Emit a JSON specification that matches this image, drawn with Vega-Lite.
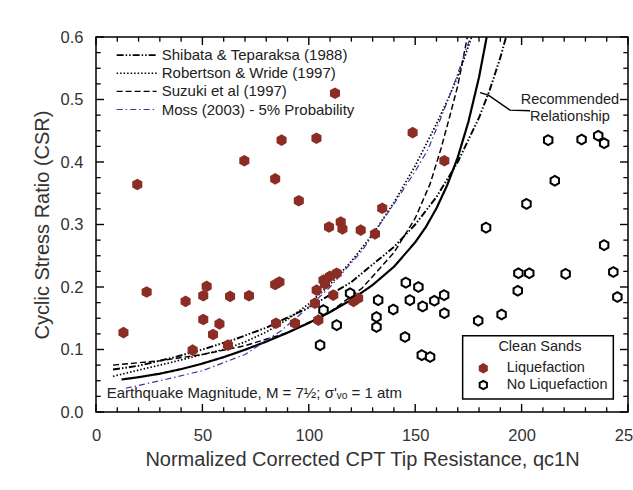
{
  "$schema": "https://vega.github.io/schema/vega-lite/v6.json",
  "width": 532,
  "height": 375,
  "autosize": {"type": "none"},
  "padding": {"left": 96, "top": 37, "right": 5, "bottom": 78},
  "background": "white",
  "config": {
    "view": {"stroke": "#000", "strokeWidth": 1.5},
    "font": "Liberation Sans",
    "axis": {
      "grid": false, "domain": false, "ticks": false, "tickSize": 0,
      "labelFont": "Liberation Sans", "labelFontSize": 16.5, "labelColor": "#333",
      "titleFont": "Liberation Sans", "titleFontSize": 20, "titleFontWeight": "normal", "titleColor": "#333"
    }
  },
  "datasets": {
    "curves": [
      {"s": "C", "g": "C", "x": 12, "y": 0.052}, {"s": "C", "g": "C", "x": 20, "y": 0.0557}, {"s": "C", "g": "C", "x": 30, "y": 0.0613},
      {"s": "C", "g": "C", "x": 40, "y": 0.0686}, {"s": "C", "g": "C", "x": 50, "y": 0.0775}, {"s": "C", "g": "C", "x": 60, "y": 0.0878},
      {"s": "C", "g": "C", "x": 70, "y": 0.0996}, {"s": "C", "g": "C", "x": 80, "y": 0.1126}, {"s": "C", "g": "C", "x": 90, "y": 0.1269},
      {"s": "C", "g": "C", "x": 100, "y": 0.1425}, {"s": "C", "g": "C", "x": 110, "y": 0.1598}, {"s": "C", "g": "C", "x": 120, "y": 0.1796},
      {"s": "C", "g": "C", "x": 130, "y": 0.2032}, {"s": "C", "g": "C", "x": 140, "y": 0.2324}, {"s": "C", "g": "C", "x": 150, "y": 0.2715},
      {"s": "C", "g": "C", "x": 155, "y": 0.2959}, {"s": "C", "g": "C", "x": 160, "y": 0.326}, {"s": "C", "g": "C", "x": 165, "y": 0.3626},
      {"s": "C", "g": "C", "x": 170, "y": 0.4074}, {"s": "C", "g": "C", "x": 175, "y": 0.4642}, {"s": "C", "g": "C", "x": 180, "y": 0.5357},
      {"s": "C", "g": "C", "x": 183.6, "y": 0.6},
      {"s": "S", "g": "S", "x": 8, "y": 0.068}, {"s": "S", "g": "S", "x": 20, "y": 0.074}, {"s": "S", "g": "S", "x": 35, "y": 0.086},
      {"s": "S", "g": "S", "x": 50, "y": 0.1}, {"s": "S", "g": "S", "x": 65, "y": 0.116}, {"s": "S", "g": "S", "x": 80, "y": 0.135},
      {"s": "S", "g": "S", "x": 100, "y": 0.167}, {"s": "S", "g": "S", "x": 120, "y": 0.208}, {"s": "S", "g": "S", "x": 140, "y": 0.264},
      {"s": "S", "g": "S", "x": 150, "y": 0.3}, {"s": "S", "g": "S", "x": 160, "y": 0.344}, {"s": "S", "g": "S", "x": 170, "y": 0.4},
      {"s": "S", "g": "S", "x": 180, "y": 0.471}, {"s": "S", "g": "S", "x": 185, "y": 0.515}, {"s": "S", "g": "S", "x": 190, "y": 0.567},
      {"s": "S", "g": "S", "x": 192.7, "y": 0.6},
      {"s": "R", "g": "R", "x": 8, "y": 0.057}, {"s": "R", "g": "R", "x": 20, "y": 0.067}, {"s": "R", "g": "R", "x": 35, "y": 0.079},
      {"s": "R", "g": "R", "x": 50, "y": 0.092}, {"s": "R", "g": "R", "x": 60, "y": 0.1}, {"s": "R", "g": "R", "x": 70, "y": 0.112},
      {"s": "R", "g": "R", "x": 80, "y": 0.128}, {"s": "R", "g": "R", "x": 90, "y": 0.148}, {"s": "R", "g": "R", "x": 100, "y": 0.173},
      {"s": "R", "g": "R", "x": 110, "y": 0.204}, {"s": "R", "g": "R", "x": 120, "y": 0.241}, {"s": "R", "g": "R", "x": 130, "y": 0.284},
      {"s": "R", "g": "R", "x": 140, "y": 0.335}, {"s": "R", "g": "R", "x": 150, "y": 0.394}, {"s": "R", "g": "R", "x": 160, "y": 0.461},
      {"s": "R", "g": "R", "x": 166, "y": 0.505}, {"s": "R", "g": "R", "x": 170, "y": 0.537}, {"s": "R", "g": "R", "x": 174, "y": 0.575},
      {"s": "R", "g": "R", "x": 176.5, "y": 0.6},
      {"s": "Z", "g": "Z", "x": 8, "y": 0.075}, {"s": "Z", "g": "Z", "x": 30, "y": 0.082}, {"s": "Z", "g": "Z", "x": 50, "y": 0.092},
      {"s": "Z", "g": "Z", "x": 70, "y": 0.106}, {"s": "Z", "g": "Z", "x": 90, "y": 0.127}, {"s": "Z", "g": "Z", "x": 110, "y": 0.16},
      {"s": "Z", "g": "Z", "x": 125, "y": 0.198}, {"s": "Z", "g": "Z", "x": 140, "y": 0.255}, {"s": "Z", "g": "Z", "x": 150, "y": 0.31},
      {"s": "Z", "g": "Z", "x": 157, "y": 0.365}, {"s": "Z", "g": "Z", "x": 162, "y": 0.42}, {"s": "Z", "g": "Z", "x": 166, "y": 0.47},
      {"s": "Z", "g": "Z", "x": 170, "y": 0.522}, {"s": "Z", "g": "Z", "x": 174.5, "y": 0.6},
      {"s": "M", "g": "M", "x": 14, "y": 0.038}, {"s": "M", "g": "M", "x": 30, "y": 0.05}, {"s": "M", "g": "M", "x": 50, "y": 0.066},
      {"s": "M", "g": "M", "x": 70, "y": 0.092}, {"s": "M", "g": "M", "x": 87, "y": 0.13}, {"s": "M", "g": "M", "x": 100, "y": 0.168},
      {"s": "M", "g": "M", "x": 110, "y": 0.2}, {"s": "M", "g": "M", "x": 125, "y": 0.258}, {"s": "M", "g": "M", "x": 140, "y": 0.333},
      {"s": "M", "g": "M", "x": 150, "y": 0.385}, {"s": "M", "g": "M", "x": 156, "y": 0.42}, {"s": "M", "g": "M", "x": 162, "y": 0.47},
      {"s": "M", "g": "M", "x": 168, "y": 0.522}, {"s": "M", "g": "M", "x": 176, "y": 0.6},
      {"s": "S", "g": "LS", "x": 9.7, "y": 0.571}, {"s": "S", "g": "LS", "x": 28.5, "y": 0.571},
      {"s": "R", "g": "LR", "x": 9.7, "y": 0.542}, {"s": "R", "g": "LR", "x": 28.5, "y": 0.542},
      {"s": "Z", "g": "LZ", "x": 9.7, "y": 0.513}, {"s": "Z", "g": "LZ", "x": 28.5, "y": 0.513},
      {"s": "M", "g": "LM", "x": 9.7, "y": 0.484}, {"s": "M", "g": "LM", "x": 28.5, "y": 0.484}
    ],
    "leader": [
      {"x": 180.5, "y": 0.511}, {"x": 184.4, "y": 0.507}, {"x": 194.5, "y": 0.483}, {"x": 204, "y": 0.482}
    ],
    "box": [{"x1": 172.3, "x2": 243.1, "y1": 0.0208, "y2": 0.122}],
    "xMajor": [{"v": 0}, {"v": 50}, {"v": 100}, {"v": 150}, {"v": 200}, {"v": 250}],
    "xMinor": [{"v": 10}, {"v": 20}, {"v": 30}, {"v": 40}, {"v": 60}, {"v": 70}, {"v": 80}, {"v": 90},
      {"v": 110}, {"v": 120}, {"v": 130}, {"v": 140}, {"v": 160}, {"v": 170}, {"v": 180}, {"v": 190},
      {"v": 210}, {"v": 220}, {"v": 230}, {"v": 240}],
    "yMajor": [{"v": 0}, {"v": 0.1}, {"v": 0.2}, {"v": 0.3}, {"v": 0.4}, {"v": 0.5}, {"v": 0.6}],
    "yMinor": [{"v": 0.025}, {"v": 0.05}, {"v": 0.075}, {"v": 0.125}, {"v": 0.15}, {"v": 0.175}, {"v": 0.225}, {"v": 0.25}, {"v": 0.275},
      {"v": 0.325}, {"v": 0.35}, {"v": 0.375}, {"v": 0.425}, {"v": 0.45}, {"v": 0.475}, {"v": 0.525}, {"v": 0.55}, {"v": 0.575}],
    "pts": [
      {"obs": "Liquefaction", "x": 12.9, "y": 0.127}, {"obs": "Liquefaction", "x": 19.4, "y": 0.364},
      {"obs": "Liquefaction", "x": 23.8, "y": 0.192}, {"obs": "Liquefaction", "x": 42.1, "y": 0.177},
      {"obs": "Liquefaction", "x": 45.4, "y": 0.099}, {"obs": "Liquefaction", "x": 50.4, "y": 0.186},
      {"obs": "Liquefaction", "x": 52, "y": 0.201}, {"obs": "Liquefaction", "x": 50.4, "y": 0.148},
      {"obs": "Liquefaction", "x": 58, "y": 0.141}, {"obs": "Liquefaction", "x": 55, "y": 0.124},
      {"obs": "Liquefaction", "x": 62, "y": 0.107}, {"obs": "Liquefaction", "x": 63, "y": 0.185},
      {"obs": "Liquefaction", "x": 69.7, "y": 0.402}, {"obs": "Liquefaction", "x": 71.9, "y": 0.186},
      {"obs": "Liquefaction", "x": 84.2, "y": 0.373}, {"obs": "Liquefaction", "x": 87.2, "y": 0.435},
      {"obs": "Liquefaction", "x": 84.2, "y": 0.204}, {"obs": "Liquefaction", "x": 86.2, "y": 0.208},
      {"obs": "Liquefaction", "x": 84.6, "y": 0.142}, {"obs": "Liquefaction", "x": 93.5, "y": 0.142},
      {"obs": "Liquefaction", "x": 95.3, "y": 0.338}, {"obs": "Liquefaction", "x": 103.6, "y": 0.438},
      {"obs": "Liquefaction", "x": 103.7, "y": 0.195}, {"obs": "Liquefaction", "x": 102.9, "y": 0.174},
      {"obs": "Liquefaction", "x": 104.5, "y": 0.147}, {"obs": "Liquefaction", "x": 106.9, "y": 0.211},
      {"obs": "Liquefaction", "x": 109.9, "y": 0.217}, {"obs": "Liquefaction", "x": 113.1, "y": 0.222},
      {"obs": "Liquefaction", "x": 111.5, "y": 0.187}, {"obs": "Liquefaction", "x": 107.6, "y": 0.205},
      {"obs": "Liquefaction", "x": 109.5, "y": 0.296}, {"obs": "Liquefaction", "x": 115, "y": 0.304},
      {"obs": "Liquefaction", "x": 115.8, "y": 0.293}, {"obs": "Liquefaction", "x": 112.3, "y": 0.51},
      {"obs": "Liquefaction", "x": 121, "y": 0.177}, {"obs": "Liquefaction", "x": 123.2, "y": 0.182},
      {"obs": "Liquefaction", "x": 124.4, "y": 0.291}, {"obs": "Liquefaction", "x": 131.1, "y": 0.285},
      {"obs": "Liquefaction", "x": 134.5, "y": 0.326}, {"obs": "Liquefaction", "x": 148.8, "y": 0.447},
      {"obs": "Liquefaction", "x": 163.7, "y": 0.402},
      {"obs": "No Liquefaction", "x": 105.3, "y": 0.107}, {"obs": "No Liquefaction", "x": 106.9, "y": 0.163},
      {"obs": "No Liquefaction", "x": 113.1, "y": 0.139}, {"obs": "No Liquefaction", "x": 119.4, "y": 0.19},
      {"obs": "No Liquefaction", "x": 131.8, "y": 0.136}, {"obs": "No Liquefaction", "x": 131.8, "y": 0.152},
      {"obs": "No Liquefaction", "x": 132.6, "y": 0.179}, {"obs": "No Liquefaction", "x": 139.7, "y": 0.164},
      {"obs": "No Liquefaction", "x": 145.2, "y": 0.12}, {"obs": "No Liquefaction", "x": 145.6, "y": 0.207},
      {"obs": "No Liquefaction", "x": 147.5, "y": 0.179}, {"obs": "No Liquefaction", "x": 151.5, "y": 0.2},
      {"obs": "No Liquefaction", "x": 153.1, "y": 0.091}, {"obs": "No Liquefaction", "x": 157, "y": 0.088},
      {"obs": "No Liquefaction", "x": 153.5, "y": 0.169}, {"obs": "No Liquefaction", "x": 159, "y": 0.178},
      {"obs": "No Liquefaction", "x": 163.6, "y": 0.187}, {"obs": "No Liquefaction", "x": 163.7, "y": 0.158},
      {"obs": "No Liquefaction", "x": 179.6, "y": 0.146}, {"obs": "No Liquefaction", "x": 183.3, "y": 0.295},
      {"obs": "No Liquefaction", "x": 190.6, "y": 0.156}, {"obs": "No Liquefaction", "x": 198.2, "y": 0.194},
      {"obs": "No Liquefaction", "x": 198.5, "y": 0.222}, {"obs": "No Liquefaction", "x": 203.6, "y": 0.222},
      {"obs": "No Liquefaction", "x": 202.3, "y": 0.333}, {"obs": "No Liquefaction", "x": 212.5, "y": 0.435},
      {"obs": "No Liquefaction", "x": 215.6, "y": 0.37}, {"obs": "No Liquefaction", "x": 220.7, "y": 0.221},
      {"obs": "No Liquefaction", "x": 228.2, "y": 0.436}, {"obs": "No Liquefaction", "x": 236, "y": 0.442},
      {"obs": "No Liquefaction", "x": 238.8, "y": 0.43}, {"obs": "No Liquefaction", "x": 238.8, "y": 0.267},
      {"obs": "No Liquefaction", "x": 243.1, "y": 0.224}, {"obs": "No Liquefaction", "x": 245, "y": 0.184}
    ],
    "legendKeys": [
      {"obs": "Liquefaction", "x": 182, "y": 0.0699},
      {"obs": "No Liquefaction", "x": 182, "y": 0.0432}
    ],
    "legendText": [
      {"t": "Shibata & Teparaksa (1988)", "x": 30.9, "y": 0.571},
      {"t": "Robertson & Wride (1997)", "x": 30.9, "y": 0.542},
      {"t": "Suzuki et al (1997)", "x": 30.9, "y": 0.513},
      {"t": "Moss (2003) - 5% Probability", "x": 30.9, "y": 0.484}
    ],
    "boxText": [
      {"t": "Liquefaction", "x": 193, "y": 0.0699},
      {"t": "No Liquefaction", "x": 193, "y": 0.0432}
    ],
    "noteText": [
      {"t": "Earthquake Magnitude, M = 7½; σ'ᵥₒ = 1 atm", "x": 5, "y": 0.03}
    ],
    "centerText": [
      {"t": "Clean Sands", "x": 208.6, "y": 0.1035},
      {"t": "Recommended", "x": 222.7, "y": 0.499},
      {"t": "Relationship", "x": 222.7, "y": 0.4725}
    ]
  },
  "layer": [
    {
      "data": {"name": "curves"},
      "mark": {"type": "line", "clip": true},
      "encoding": {
        "x": {"field": "x", "type": "quantitative", "scale": {"domain": [0, 250], "nice": false, "zero": false},
          "axis": {"orient": "bottom", "title": "Normalized Corrected CPT Tip Resistance, qc1N",
            "values": [0, 50, 100, 150, 200, 250], "labelPadding": 15, "titlePadding": 6, "labelFlush": false}},
        "y": {"field": "y", "type": "quantitative", "scale": {"domain": [0, 0.6], "nice": false, "zero": false},
          "axis": {"orient": "left", "title": "Cyclic Stress Ratio (CSR)", "format": ".1f",
            "values": [0, 0.1, 0.2, 0.3, 0.4, 0.5, 0.6], "labelPadding": 13, "titlePadding": 8, "labelFlush": false}},
        "detail": {"field": "g"},
        "strokeDash": {"field": "s", "type": "nominal", "legend": null,
          "scale": {"domain": ["C", "S", "R", "Z", "M"], "range": [[1, 0], [7, 2, 1.5, 2, 1.5, 2], [1.5, 2], [6, 3], [6, 3, 1.5, 3]]}},
        "color": {"field": "s", "type": "nominal", "legend": null,
          "scale": {"domain": ["C", "S", "R", "Z", "M"], "range": ["#000000", "#000000", "#000000", "#000000", "#4034a8"]}},
        "strokeWidth": {"field": "s", "type": "nominal", "legend": null,
          "scale": {"domain": ["C", "S", "R", "Z", "M"], "range": [2.2, 1.2, 1.4, 1.2, 1.2]}},
        "order": {"field": "x", "type": "quantitative"}
      }
    },
    {
      "data": {"name": "xMajor"},
      "mark": {"type": "rule", "color": "#000", "strokeWidth": 1.4},
      "encoding": {"x": {"field": "v", "type": "quantitative"}, "y": {"datum": 0, "type": "quantitative"}, "y2": {"datum": 0.0128}}
    },
    {
      "data": {"name": "xMajor"},
      "mark": {"type": "rule", "color": "#000", "strokeWidth": 1.4},
      "encoding": {"x": {"field": "v", "type": "quantitative"}, "y": {"datum": 0.6, "type": "quantitative"}, "y2": {"datum": 0.5872}}
    },
    {
      "data": {"name": "xMinor"},
      "mark": {"type": "rule", "color": "#000", "strokeWidth": 1.3},
      "encoding": {"x": {"field": "v", "type": "quantitative"}, "y": {"datum": 0, "type": "quantitative"}, "y2": {"datum": 0.0075}}
    },
    {
      "data": {"name": "xMinor"},
      "mark": {"type": "rule", "color": "#000", "strokeWidth": 1.3},
      "encoding": {"x": {"field": "v", "type": "quantitative"}, "y": {"datum": 0.6, "type": "quantitative"}, "y2": {"datum": 0.5925}}
    },
    {
      "data": {"name": "yMajor"},
      "mark": {"type": "rule", "color": "#000", "strokeWidth": 1.4},
      "encoding": {"y": {"field": "v", "type": "quantitative"}, "x": {"datum": 0, "type": "quantitative"}, "x2": {"datum": 3.76}}
    },
    {
      "data": {"name": "yMajor"},
      "mark": {"type": "rule", "color": "#000", "strokeWidth": 1.4},
      "encoding": {"y": {"field": "v", "type": "quantitative"}, "x": {"datum": 250, "type": "quantitative"}, "x2": {"datum": 246.24}}
    },
    {
      "data": {"name": "yMinor"},
      "mark": {"type": "rule", "color": "#000", "strokeWidth": 1.3},
      "encoding": {"y": {"field": "v", "type": "quantitative"}, "x": {"datum": 0, "type": "quantitative"}, "x2": {"datum": 2.2}}
    },
    {
      "data": {"name": "yMinor"},
      "mark": {"type": "rule", "color": "#000", "strokeWidth": 1.3},
      "encoding": {"y": {"field": "v", "type": "quantitative"}, "x": {"datum": 250, "type": "quantitative"}, "x2": {"datum": 247.8}}
    },
    {
      "data": {"name": "leader"},
      "mark": {"type": "line", "color": "#000", "strokeWidth": 1.5},
      "encoding": {
        "x": {"field": "x", "type": "quantitative"},
        "y": {"field": "y", "type": "quantitative"}
      }
    },
    {
      "data": {"name": "box"},
      "mark": {"type": "rect", "fill": "white", "stroke": "#000", "strokeWidth": 1.5},
      "encoding": {
        "x": {"field": "x1", "type": "quantitative"},
        "x2": {"field": "x2"},
        "y": {"field": "y1", "type": "quantitative"},
        "y2": {"field": "y2"}
      }
    },
    {
      "data": {"name": "pts"},
      "transform": [{"filter": "datum.obs === 'Liquefaction'"}],
      "mark": {"type": "point", "shape": "M0,-1L0.866,-0.5L0.866,0.5L0,1L-0.866,0.5L-0.866,-0.5Z", "filled": true, "color": "#8c2d25", "size": 135, "opacity": 1},
      "encoding": {
        "x": {"field": "x", "type": "quantitative"},
        "y": {"field": "y", "type": "quantitative"}
      }
    },
    {
      "data": {"name": "pts"},
      "transform": [{"filter": "datum.obs === 'No Liquefaction'"}],
      "mark": {"type": "point", "shape": "M0,-1L0.866,-0.5L0.866,0.5L0,1L-0.866,0.5L-0.866,-0.5Z", "filled": false, "fill": "white", "stroke": "#000", "strokeWidth": 2, "size": 95, "opacity": 1},
      "encoding": {
        "x": {"field": "x", "type": "quantitative"},
        "y": {"field": "y", "type": "quantitative"}
      }
    },
    {
      "data": {"name": "legendKeys"},
      "transform": [{"filter": "datum.obs === 'Liquefaction'"}],
      "mark": {"type": "point", "shape": "M0,-1L0.866,-0.5L0.866,0.5L0,1L-0.866,0.5L-0.866,-0.5Z", "filled": true, "color": "#8c2d25", "size": 110, "opacity": 1},
      "encoding": {
        "x": {"field": "x", "type": "quantitative"},
        "y": {"field": "y", "type": "quantitative"}
      }
    },
    {
      "data": {"name": "legendKeys"},
      "transform": [{"filter": "datum.obs === 'No Liquefaction'"}],
      "mark": {"type": "point", "shape": "M0,-1L0.866,-0.5L0.866,0.5L0,1L-0.866,0.5L-0.866,-0.5Z", "filled": false, "fill": "white", "stroke": "#000", "strokeWidth": 2, "size": 70, "opacity": 1},
      "encoding": {
        "x": {"field": "x", "type": "quantitative"},
        "y": {"field": "y", "type": "quantitative"}
      }
    },
    {
      "data": {"name": "legendText"},
      "mark": {"type": "text", "align": "left", "baseline": "middle", "fontSize": 15, "font": "Liberation Sans", "color": "#222"},
      "encoding": {
        "x": {"field": "x", "type": "quantitative"},
        "y": {"field": "y", "type": "quantitative"},
        "text": {"field": "t"}
      }
    },
    {
      "data": {"name": "boxText"},
      "mark": {"type": "text", "align": "left", "baseline": "middle", "fontSize": 14.5, "font": "Liberation Sans", "color": "#222"},
      "encoding": {
        "x": {"field": "x", "type": "quantitative"},
        "y": {"field": "y", "type": "quantitative"},
        "text": {"field": "t"}
      }
    },
    {
      "data": {"name": "noteText"},
      "mark": {"type": "text", "align": "left", "baseline": "middle", "fontSize": 15, "font": "Liberation Sans", "color": "#222"},
      "encoding": {
        "x": {"field": "x", "type": "quantitative"},
        "y": {"field": "y", "type": "quantitative"},
        "text": {"field": "t"}
      }
    },
    {
      "data": {"name": "centerText"},
      "mark": {"type": "text", "align": "center", "baseline": "middle", "fontSize": 14.5, "font": "Liberation Sans", "color": "#222"},
      "encoding": {
        "x": {"field": "x", "type": "quantitative"},
        "y": {"field": "y", "type": "quantitative"},
        "text": {"field": "t"}
      }
    }
  ]
}
